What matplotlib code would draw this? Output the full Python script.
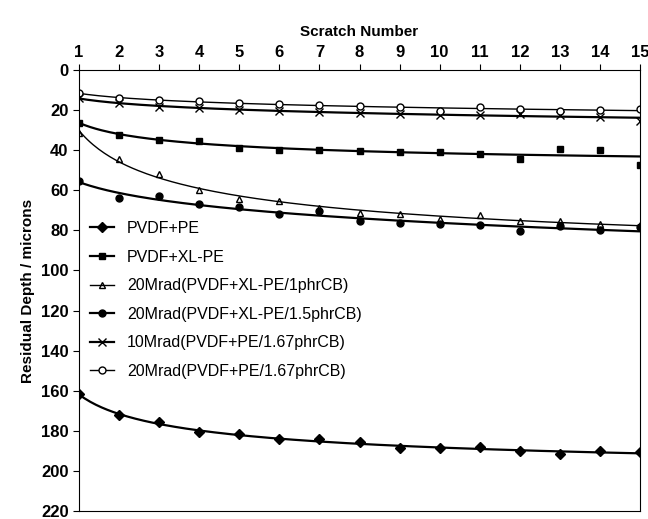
import matplotlib.pyplot as plt
import numpy as np

plt.rcParams['font.family'] = ['Liberation Sans', 'DejaVu Sans']

scratch = np.arange(1, 16)
pvdf_pe = [161.7, 172.2, 175.8, 180.8, 181.7, 184.2, 184.2, 185.8, 188.7, 188.7, 188.0, 190.3, 191.7, 190.0, 190.8]
pvdf_xlpe = [26.3, 32.2, 34.7, 35.5, 38.8, 40.0, 40.0, 40.5, 41.0, 41.0, 41.7, 44.3, 39.2, 39.7, 47.5]
mrad20_1phr = [31.3, 44.2, 51.7, 60.0, 64.2, 65.3, 68.8, 71.2, 71.7, 74.2, 72.2, 75.3, 75.5, 76.7, 77.5]
mrad20_15phr = [55.5, 63.7, 63.0, 66.7, 68.3, 72.0, 70.5, 75.3, 76.3, 77.0, 77.5, 80.5, 78.0, 80.0, 78.3]
mrad10_167 = [14.2, 16.3, 18.3, 18.8, 20.0, 20.5, 20.8, 21.7, 22.0, 22.5, 22.5, 22.0, 22.5, 23.3, 25.3]
mrad20_167 = [11.7, 13.8, 15.0, 15.5, 16.7, 17.2, 17.5, 18.0, 18.7, 20.3, 18.7, 19.5, 20.3, 20.0, 19.5]

series = [
    ("PVDF+PE", pvdf_pe, dict(marker='D', ms=5, mfc='black')),
    ("PVDF+XL-PE", pvdf_xlpe, dict(marker='s', ms=5, mfc='black')),
    ("20Mrad(PVDF+XL-PE/1phrCB)", mrad20_1phr, dict(marker='^', ms=5, mfc='none', lw=1)),
    ("20Mrad(PVDF+XL-PE/1.5phrCB)", mrad20_15phr, dict(marker='o', ms=5, mfc='black')),
    ("10Mrad(PVDF+PE/1.67phrCB)", mrad10_167, dict(marker='x', ms=6)),
    ("20Mrad(PVDF+PE/1.67phrCB)", mrad20_167, dict(marker='o', ms=5, mfc='white', lw=1)),
]

fig = plt.figure(figsize=(6.48, 5.19), dpi=100)
ax = fig.add_axes([79/648, 8/519, 561/648, 441/519])

xs = np.linspace(1, 15, 200)
for name, vals, st in series:
    lw = st.pop('lw', 1.6)
    # smooth trend line through the data
    coef = np.polyfit(np.log(scratch), vals, 2)
    ax.plot(xs, np.polyval(coef, np.log(xs)), color='black', lw=lw)
    ax.plot(scratch, vals, ls='none', color='black', mec='black', **st)
    ax.plot([], [], color='black', lw=lw, label=name, mec='black', **st)

ax.set_xlim(1, 15)
ax.set_ylim(220, 0)
ax.set_xticks(scratch)
ax.set_yticks(np.arange(0, 221, 20))
ax.xaxis.tick_top()
ax.xaxis.set_label_position('top')
ax.tick_params(axis='both', labelsize=12, direction='out', length=4)
for t in ax.get_xticklabels() + ax.get_yticklabels():
    t.set_fontweight('bold')
ax.set_xlabel("Scratch Number", fontsize=11, fontweight='bold', labelpad=6)
ax.set_ylabel("Residual Depth / microns", fontsize=11, fontweight='bold', labelpad=4)

ax.legend(loc='upper left', bbox_to_anchor=(0.0, 0.683), frameon=False, fontsize=11.5,
          labelspacing=0.85, handlelength=1.5, borderaxespad=0.3)

fig.savefig("out.png", dpi=100)
